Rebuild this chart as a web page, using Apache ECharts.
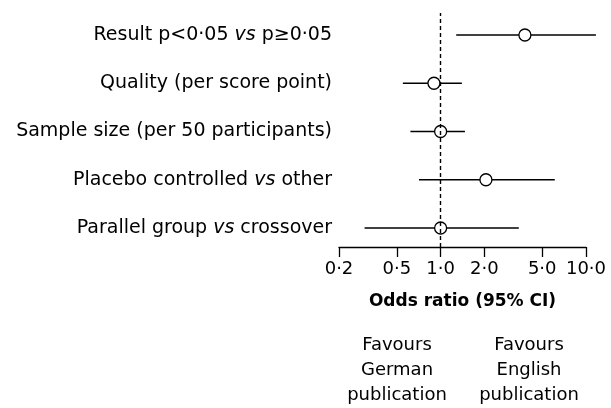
<!DOCTYPE html>
<html>
<head>
<meta charset="utf-8">
<script src="https://cdn.jsdelivr.net/npm/echarts@6/dist/echarts.min.js"></script>
<style>
  html, body { margin: 0; padding: 0; background: #fff; }
  #chart { width: 611px; height: 408px; }
</style>
</head>
<body>
<div id="chart"></div>
<script>
// rows, top to bottom
const factors = [
  'Result p<0·05 vs p≥0·05',
  'Quality (per score point)',
  'Sample size (per 50 participants)',
  'Placebo controlled vs other',
  'Parallel group vs crossover'
];
const oddsRatio = [3.8, 0.9, 1.0, 2.05, 1.0];
const ciLower = [1.28, 0.55, 0.62, 0.71, 0.3];
const ciUpper = [11.7, 1.4, 1.47, 6.1, 3.45];
const tickValues = [0.2, 0.5, 1, 2, 5, 10];
const favoursLeft = 'Favours\nGerman\npublication';
const favoursRight = 'Favours\nEnglish\npublication';

const FONT = 'DejaVu Sans';
const chart = echarts.init(document.getElementById('chart'));

const fmtTick = v => Number(v).toFixed(1).replace('.', '·');

const option = {
  animation: false,
  grid: [
    // axis + reference line
    { left: 339, right: 25, top: 13, bottom: 161 },
    // rows
    { left: 339, right: 25, top: 35, bottom: 180 }
  ],
  xAxis: [
    {
      type: 'log',
      gridIndex: 0,
      min: 0.2,
      max: 10,
      name: 'Odds ratio (95% CI)',
      nameLocation: 'middle',
      nameGap: 46,
      nameTextStyle: { fontFamily: FONT, fontSize: 17, fontWeight: 'bold', color: '#000' },
      axisLine: { show: true, lineStyle: { color: '#000', width: 1.3 } },
      axisTick: { show: true, length: 10, customValues: tickValues, lineStyle: { color: '#000', width: 1.3 } },
      axisLabel: {
        customValues: tickValues,
        margin: 13,
        fontFamily: FONT,
        fontSize: 18,
        color: '#000',
        formatter: fmtTick
      },
      splitLine: { show: false },
      minorTick: { show: false }
    },
    {
      type: 'log',
      gridIndex: 1,
      min: 0.2,
      max: 10,
      show: false
    }
  ],
  yAxis: [
    { type: 'value', gridIndex: 0, min: 0, max: 1, show: false },
    {
      type: 'category',
      gridIndex: 1,
      data: factors,
      inverse: true,
      boundaryGap: false,
      axisLine: { show: false },
      axisTick: { show: false },
      splitLine: { show: false },
      axisLabel: {
        margin: 7,
        fontFamily: FONT,
        fontSize: 19,
        color: '#000',
        formatter: v => v.replace(' vs ', ' {i|vs} '),
        rich: {
          i: { fontFamily: FONT, fontSize: 19, fontStyle: 'italic', color: '#000' }
        }
      }
    }
  ],
  series: [
    {
      // line of no effect
      type: 'scatter',
      xAxisIndex: 0,
      yAxisIndex: 0,
      data: [],
      markLine: {
        silent: true,
        symbol: 'none',
        label: { show: false },
        lineStyle: { color: '#000', width: 1.4, type: [4, 3] },
        data: [{ xAxis: 1 }]
      }
    },
    {
      // confidence intervals
      type: 'custom',
      xAxisIndex: 1,
      yAxisIndex: 1,
      clip: false,
      data: factors.map((f, i) => [ciLower[i], ciUpper[i], i]),
      encode: { x: [0, 1], y: 2 },
      renderItem: (params, api) => {
        const a = api.coord([api.value(0), api.value(2)]);
        const b = api.coord([api.value(1), api.value(2)]);
        return {
          type: 'line',
          shape: { x1: a[0], y1: a[1], x2: b[0], y2: b[1] },
          style: { stroke: '#000', lineWidth: 1.3 }
        };
      },
      z: 2
    },
    {
      type: 'scatter',
      xAxisIndex: 1,
      yAxisIndex: 1,
      symbol: 'circle',
      symbolSize: 12,
      data: factors.map((f, i) => [oddsRatio[i], i]),
      itemStyle: { color: '#fff', borderColor: '#000', borderWidth: 1.3, opacity: 1 },
      z: 3
    }
  ],
  graphic: [
    {
      type: 'text',
      x: 397, y: 333,
      style: { text: favoursLeft, align: 'center', verticalAlign: 'top', lineHeight: 25, fontFamily: FONT, fontSize: 18, fill: '#000' }
    },
    {
      type: 'text',
      x: 529, y: 333,
      style: { text: favoursRight, align: 'center', verticalAlign: 'top', lineHeight: 25, fontFamily: FONT, fontSize: 18, fill: '#000' }
    }
  ]
};

chart.setOption(option);
</script>
</body>
</html>
